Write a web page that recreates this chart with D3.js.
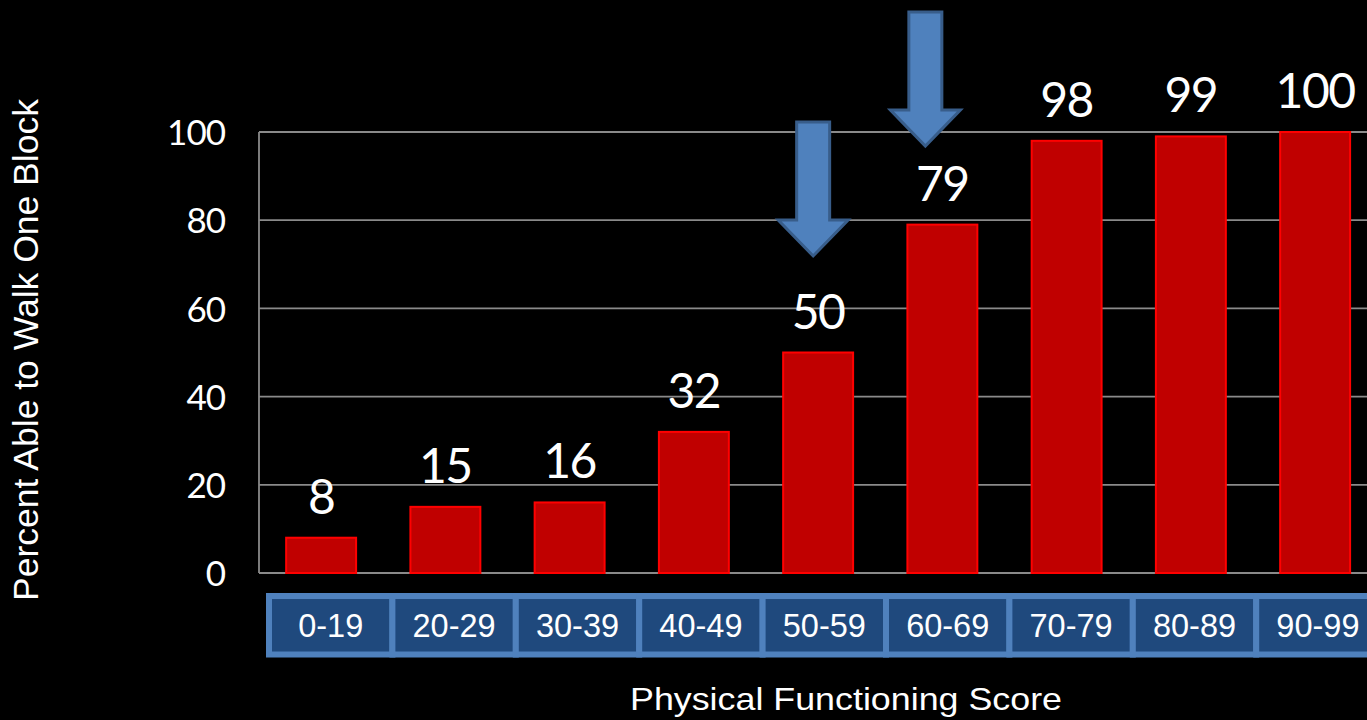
<!DOCTYPE html>
<html>
<head>
<meta charset="utf-8">
<script src="https://cdn.jsdelivr.net/npm/d3@7"></script>
<style>
  html, body { margin: 0; padding: 0; background: #000; overflow: hidden; }
  svg { display: block; }
</style>
</head>
<body>
<svg id="chart" width="1367" height="720"></svg>
<script>
// Physical functioning score bands and share of people able to walk one block
const categories = ["0-19", "20-29", "30-39", "40-49", "50-59", "60-69", "70-79", "80-89", "90-99"];
const percentAble = [8, 15, 16, 32, 50, 79, 98, 99, 100];
const yTicks = [0, 20, 40, 60, 80, 100];

// Call-out arrows: which band they point at, where the tip sits (in %), and a small sideways nudge (fraction of a band step)
const arrowCats = ["50-59", "60-69"];
const arrowTips = [71.9, 96.8];
const arrowNudge = [-0.04, -0.137];

const yTitle = "Percent Able to Walk One Block";
const xTitle = "Physical Functioning Score";

const svg = d3.select("#chart");
const W = 1367, H = 720;

svg.append("rect").attr("width", W).attr("height", H).attr("fill", "#000");

const plotLeft = 259, plotTop = 132, plotBottom = 573;
const x = d3.scaleBand()
  .domain(categories)
  .range([plotLeft, plotLeft + 9 * 124.25])
  .paddingInner(0.437)
  .paddingOuter(0.2185);

const y = d3.scaleLinear().domain([0, 100]).range([plotBottom, plotTop]);

// gridlines
svg.append("g")
  .selectAll("line")
  .data(yTicks)
  .join("line")
  .attr("x1", plotLeft)
  .attr("x2", W + 20)
  .attr("y1", d => y(d))
  .attr("y2", d => y(d))
  .attr("stroke", "#8a8a8a")
  .attr("stroke-width", 1.8);

// vertical axis line
svg.append("line")
  .attr("x1", plotLeft).attr("x2", plotLeft)
  .attr("y1", y(100)).attr("y2", y(0))
  .attr("stroke", "#8a8a8a")
  .attr("stroke-width", 1.8);

// y tick labels
const yAxis = d3.axisLeft(y).tickValues(yTicks).tickSize(0).tickPadding(34);
const yg = svg.append("g").attr("transform", `translate(${plotLeft},0)`).call(yAxis);
yg.select(".domain").remove();
yg.selectAll("text")
  .attr("fill", "#fff")
  .attr("font-family", "Lato, 'Noto Sans', sans-serif")
  .attr("font-size", 35)
  .attr("letter-spacing", -1)
  .attr("dy", "0.36em");

// bars
const data = categories.map((c, i) => ({ cat: c, v: percentAble[i] }));
svg.append("g")
  .selectAll("rect")
  .data(data)
  .join("rect")
  .attr("x", d => x(d.cat))
  .attr("width", x.bandwidth())
  .attr("y", d => y(d.v))
  .attr("height", d => y(0) - y(d.v))
  .attr("fill", "#c00000")
  .attr("stroke", "#ff0000")
  .attr("stroke-width", 2);

// value labels
svg.append("g")
  .selectAll("text")
  .data(data)
  .join("text")
  .attr("x", d => x(d.cat) + x.bandwidth() / 2)
  .attr("y", d => y(d.v) - 24)
  .attr("text-anchor", "middle")
  .attr("fill", "#fff")
  .attr("font-family", "Lato, 'Noto Sans', sans-serif")
  .attr("font-size", 48)
  .attr("letter-spacing", -1.5)
  .text(d => d.v);

// category table under the axis
const cell = d3.scaleBand().domain(categories).range([269, 269 + 9 * 123.4]);
const tableTop = 596, tableBottom = 654.5;
const tg = svg.append("g");
tg.selectAll("rect")
  .data(categories)
  .join("rect")
  .attr("x", d => cell(d))
  .attr("width", cell.bandwidth())
  .attr("y", tableTop)
  .attr("height", tableBottom - tableTop)
  .attr("fill", "#1f497d")
  .attr("stroke", "#4f81bd")
  .attr("stroke-width", 6);
tg.selectAll("text")
  .data(categories)
  .join("text")
  .attr("x", d => cell(d) + cell.bandwidth() / 2)
  .attr("y", (tableTop + tableBottom) / 2 + 11.5)
  .attr("text-anchor", "middle")
  .attr("fill", "#fff")
  .attr("font-family", "'Liberation Sans', Arial, sans-serif")
  .attr("font-size", 32.5)
  .text(d => d);

// call-out arrows
const shaftW = 33, shaftLen = 98, headW = 70, headH = 36;
const arrows = arrowCats.map((c, i) => ({
  cx: x(c) + x.bandwidth() / 2 + arrowNudge[i] * x.step(),
  tip: y(arrowTips[i])
}));
svg.append("g")
  .selectAll("path")
  .data(arrows)
  .join("path")
  .attr("d", d => {
    const top = d.tip - headH - shaftLen;
    const base = d.tip - headH;
    const p = d3.path();
    p.moveTo(d.cx - shaftW / 2, top);
    p.lineTo(d.cx + shaftW / 2, top);
    p.lineTo(d.cx + shaftW / 2, base);
    p.lineTo(d.cx + headW / 2, base);
    p.lineTo(d.cx, d.tip);
    p.lineTo(d.cx - headW / 2, base);
    p.lineTo(d.cx - shaftW / 2, base);
    p.closePath();
    return p.toString();
  })
  .attr("fill", "#4f81bd")
  .attr("stroke", "#385d8a")
  .attr("stroke-width", 3)
  .attr("stroke-linejoin", "miter");

// axis titles
svg.append("text")
  .attr("transform", "translate(38,350) rotate(-90)")
  .attr("text-anchor", "middle")
  .attr("fill", "#fff")
  .attr("font-family", "'Liberation Sans', Arial, sans-serif")
  .attr("font-size", 35.5)
  .text(yTitle);

svg.append("text")
  .attr("x", 630)
  .attr("y", 710)
  .attr("fill", "#fff")
  .attr("font-family", "'Liberation Sans', Arial, sans-serif")
  .attr("font-size", 32)
  .attr("textLength", 432)
  .attr("lengthAdjust", "spacingAndGlyphs")
  .text(xTitle);
</script>
</body>
</html>
